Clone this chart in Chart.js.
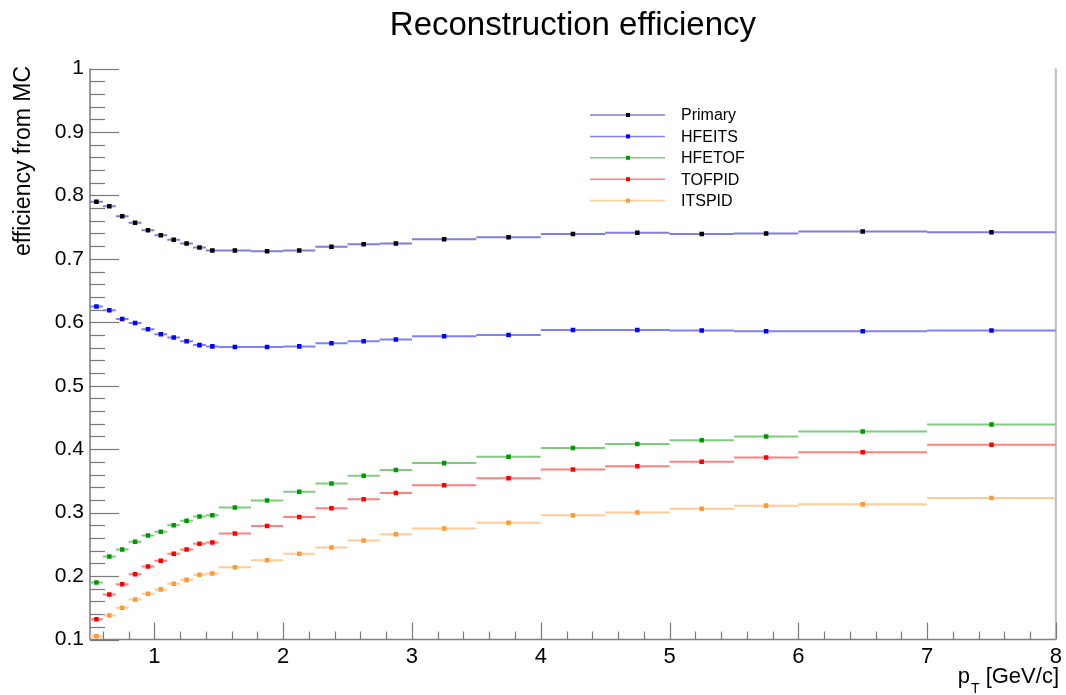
<!DOCTYPE html>
<html>
<head>
<meta charset="utf-8">
<script src="https://cdn.jsdelivr.net/npm/chart.js@4.4.1/dist/chart.umd.min.js"></script>
<style>
  html, body { margin: 0; padding: 0; background: #ffffff; }
  #wrap { width: 1066px; height: 695px; }
</style>
</head>
<body>
<div id="wrap"><canvas id="c" width="1066" height="695"></canvas></div>
<script>
// pT bin edges [GeV/c]
const binEdges = [0.5, 0.6, 0.7, 0.8, 0.9, 1.0, 1.1, 1.2, 1.3, 1.4, 1.5, 1.75, 2.0, 2.25, 2.5, 2.75, 3.0, 3.5, 4.0, 4.5, 5.0, 5.5, 6.0, 7.0, 8.0];

// efficiency per bin
const primary = [0.790, 0.783, 0.767, 0.757, 0.745, 0.737, 0.730, 0.724, 0.718, 0.713, 0.713, 0.712, 0.713, 0.719, 0.723, 0.724, 0.731, 0.734, 0.739, 0.741, 0.739, 0.740, 0.743, 0.742];
const hfeits  = [0.625, 0.619, 0.605, 0.599, 0.589, 0.581, 0.576, 0.570, 0.564, 0.562, 0.561, 0.561, 0.562, 0.567, 0.570, 0.573, 0.578, 0.580, 0.588, 0.588, 0.587, 0.586, 0.586, 0.587];
const hfetof  = [0.190, 0.231, 0.242, 0.254, 0.264, 0.270, 0.280, 0.287, 0.294, 0.296, 0.308, 0.319, 0.333, 0.346, 0.358, 0.367, 0.378, 0.388, 0.402, 0.408, 0.414, 0.420, 0.428, 0.439];
const tofpid  = [0.132, 0.171, 0.187, 0.203, 0.215, 0.224, 0.235, 0.242, 0.251, 0.253, 0.267, 0.279, 0.293, 0.307, 0.321, 0.331, 0.343, 0.354, 0.368, 0.373, 0.380, 0.387, 0.395, 0.407];
const itspid  = [0.105, 0.138, 0.150, 0.163, 0.172, 0.179, 0.188, 0.194, 0.202, 0.204, 0.214, 0.225, 0.235, 0.245, 0.256, 0.266, 0.275, 0.284, 0.296, 0.300, 0.306, 0.311, 0.313, 0.323];

const seriesNames = ['Primary', 'HFEITS', 'HFETOF', 'TOFPID', 'ITSPID'];
const xTickValues = [1, 2, 3, 4, 5, 6, 7, 8];
const yTickValues = [0.1, 0.2, 0.3, 0.4, 0.5, 0.6, 0.7, 0.8, 0.9, 1];

const FONT = '"Liberation Sans", Arial, Helvetica, sans-serif';

const series = [
  { name: seriesNames[0], values: primary, marker: '#000000', bar: '#7f7fdb' },
  { name: seriesNames[1], values: hfeits,  marker: '#0000ff', bar: '#8080ff' },
  { name: seriesNames[2], values: hfetof,  marker: '#009900', bar: '#7fcc7f' },
  { name: seriesNames[3], values: tofpid,  marker: '#ff0000', bar: '#ff8080' },
  { name: seriesNames[4], values: itspid,  marker: '#ff9933', bar: '#ffcc99' }
];

// horizontal bars spanning each bin, separated by gaps
function binBars(values) {
  const pts = [];
  values.forEach((v, i) => {
    pts.push({ x: binEdges[i], y: v });
    pts.push({ x: binEdges[i + 1], y: v });
    pts.push({ x: binEdges[i + 1], y: null });
  });
  return pts;
}
// markers at bin centres
function binPoints(values) {
  return values.map((v, i) => ({ x: (binEdges[i] + binEdges[i + 1]) / 2, y: v }));
}

const datasets = [];
series.forEach(s => {
  datasets.push({
    label: s.name + ' bins',
    data: binBars(s.values),
    showLine: true,
    spanGaps: false,
    borderColor: s.bar,
    borderWidth: 2,
    pointRadius: 0,
    order: 2
  });
});
series.forEach(s => {
  datasets.push({
    label: s.name,
    data: binPoints(s.values),
    showLine: false,
    pointStyle: 'rect',
    pointRadius: 3.2,
    pointBorderWidth: 0,
    backgroundColor: s.marker,
    borderColor: s.marker,
    order: 1
  });
});

// inside tick marks, frame lines, titles and legend
const decor = {
  id: 'decor',
  beforeDatasetsDraw(chart) {
    const { ctx, chartArea: a, scales: { x, y } } = chart;
    ctx.save();
    // frame
    ctx.strokeStyle = '#bdbdbd';
    ctx.lineWidth = 2;
    ctx.beginPath();
    ctx.moveTo(a.right, a.top); ctx.lineTo(a.right, a.bottom);
    ctx.stroke();
    ctx.strokeStyle = '#9a9a9a';
    ctx.beginPath();
    ctx.moveTo(a.left, a.top); ctx.lineTo(a.left, a.bottom);
    ctx.stroke();
    ctx.strokeStyle = '#808080';
    ctx.lineWidth = 1.5;
    ctx.beginPath();
    ctx.moveTo(a.left, a.bottom); ctx.lineTo(a.right, a.bottom);
    ctx.stroke();

    ctx.strokeStyle = '#7a7a7a';
    ctx.lineWidth = 1.2;
    // y ticks every 0.02, major every 0.1
    for (let i = 5; i <= 50; i++) {
      const py = Math.round(y.getPixelForValue(i / 50)) + 0.5;
      const len = (i % 5 === 0) ? 29 : 15;
      ctx.beginPath();
      ctx.moveTo(a.left, py); ctx.lineTo(a.left + len, py);
      ctx.stroke();
    }
    // x ticks every 0.2, major every 1
    for (let i = 3; i <= 40; i++) {
      const px = Math.round(x.getPixelForValue(i / 5)) + 0.5;
      const len = (i % 5 === 0) ? 17 : 8;
      ctx.beginPath();
      ctx.moveTo(px, a.bottom); ctx.lineTo(px, a.bottom - len);
      ctx.stroke();
    }
    ctx.restore();
  },
  afterDraw(chart) {
    const { ctx, chartArea: a } = chart;
    ctx.save();
    ctx.fillStyle = '#000000';

    // title
    ctx.font = '33px ' + FONT;
    ctx.textAlign = 'center';
    ctx.textBaseline = 'alphabetic';
    ctx.fillText('Reconstruction efficiency', (a.left + a.right) / 2, 35);

    // y axis title
    ctx.save();
    ctx.translate(30, 66);
    ctx.rotate(-Math.PI / 2);
    ctx.font = '23px ' + FONT;
    ctx.textAlign = 'right';
    ctx.fillText('efficiency from MC', 0, 0);
    ctx.restore();

    // x axis title: p_T [GeV/c]
    ctx.textAlign = 'left';
    ctx.font = '22px ' + FONT;
    const rest = ' [GeV/c]';
    const wRest = ctx.measureText(rest).width;
    const wP = ctx.measureText('p').width;
    ctx.font = '14px ' + FONT;
    const wT = ctx.measureText('T').width;
    const xEnd = 1059;
    let xs = xEnd - wRest - wT - wP - 1;
    ctx.font = '22px ' + FONT;
    ctx.fillText('p', xs, 683);
    ctx.font = '14px ' + FONT;
    ctx.fillText('T', xs + wP + 1, 693);
    ctx.font = '22px ' + FONT;
    ctx.fillText(rest, xs + wP + 1 + wT, 683);

    // legend
    const lx0 = 590, lx1 = 665, lmx = 628, ltx = 681;
    const ly0 = 115, ldy = 21.4;
    ctx.font = '16px ' + FONT;
    ctx.textBaseline = 'middle';
    series.forEach((s, i) => {
      const ly = ly0 + i * ldy;
      ctx.strokeStyle = s.bar;
      ctx.lineWidth = 1.5;
      ctx.beginPath();
      ctx.moveTo(lx0, ly); ctx.lineTo(lx1, ly);
      ctx.stroke();
      ctx.fillStyle = s.marker;
      ctx.fillRect(lmx - 2, ly - 2, 4, 4);
      ctx.fillStyle = '#000000';
      ctx.fillText(s.name, ltx, ly + 1);
    });
    ctx.restore();
  }
};

new Chart(document.getElementById('c'), {
  type: 'scatter',
  data: { datasets },
  options: {
    responsive: false,
    animation: false,
    devicePixelRatio: 1,
    layout: { padding: { top: 68.5, right: 7, left: 0, bottom: 0 } },
    plugins: {
      legend: { display: false },
      tooltip: { enabled: false },
      title: { display: false }
    },
    scales: {
      x: {
        type: 'linear',
        min: 0.5,
        max: 8,
        afterFit(scale) { scale.height = 55.5; },
        afterBuildTicks(scale) { scale.ticks = xTickValues.map(v => ({ value: v })); },
        grid: { display: false, drawTicks: false },
        border: { display: false },
        ticks: {
          autoSkip: false,
          maxRotation: 0,
          padding: 4,
          color: '#000000',
          font: { family: FONT, size: 22 },
          callback: v => String(v)
        }
      },
      y: {
        type: 'linear',
        min: 0.1,
        max: 1,
        afterFit(scale) { scale.width = 90; },
        afterBuildTicks(scale) { scale.ticks = yTickValues.map(v => ({ value: v })); },
        grid: { display: false, drawTicks: false },
        border: { display: false },
        ticks: {
          autoSkip: false,
          padding: 6,
          color: '#000000',
          font: { family: FONT, size: 21 },
          callback: v => String(Math.round(v * 10) / 10)
        }
      }
    }
  },
  plugins: [decor]
});
</script>
</body>
</html>
